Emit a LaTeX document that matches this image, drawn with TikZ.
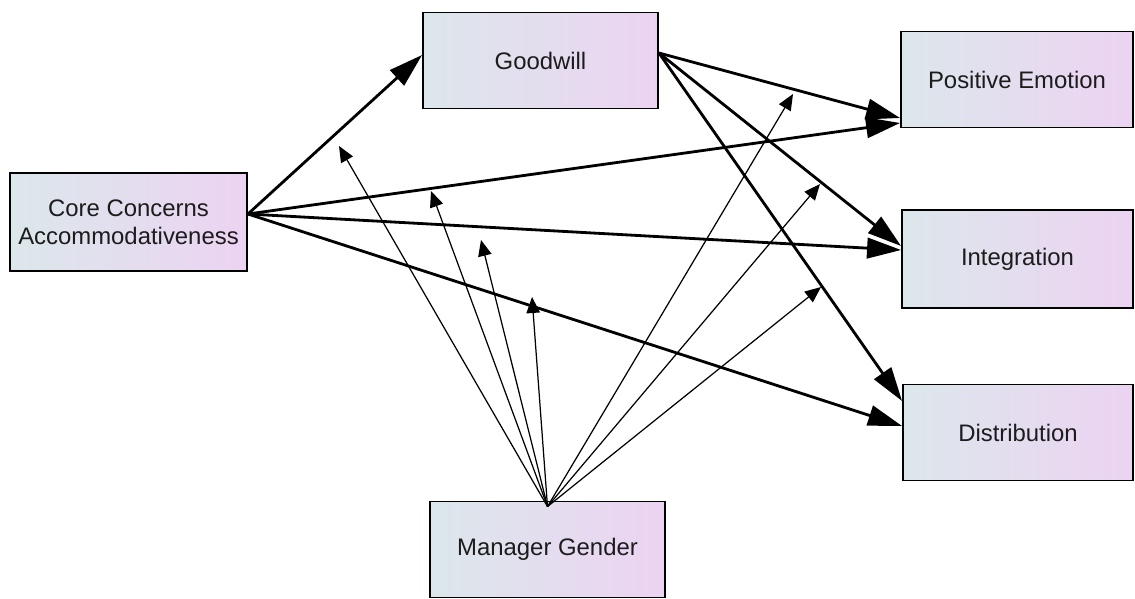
\documentclass[tikz,border=0pt]{standalone}
\usepackage{fontspec}
\setmainfont{Liberation Sans}
\usepackage{tikz}
\usetikzlibrary{arrows.meta}

\definecolor{boxl}{RGB}{220,231,235}
\definecolor{boxr}{RGB}{236,211,242}
\definecolor{txt}{RGB}{28,28,28}

\begin{document}
\begin{tikzpicture}[> = {Triangle[length=0.68cm,width=0.41cm]}, % arrow head style
	x=0.02cm, y=-0.02cm, % one unit per pixel, y downwards
	semithick % line style
	,var/.style={rectangle,draw,line width=1.1pt,left color=boxl,right color=boxr,
		minimum width=4.7cm,minimum height=1.92cm,align=center,text=txt,
		font=\fontsize{13.6}{15.9}\selectfont},
	effect/.style={->,line width=1.6pt},
	moder/.style={-{Triangle[length=0.32cm,width=0.27cm]},line width=0.7pt}]
	\useasboundingbox (0,0) rectangle (1135,598);

	\node[var,minimum width=4.74cm,minimum height=1.96cm] (core) at (128.5,222) {Core Concerns\\Accommodativeness};
	\node[var] (goodwill) at (540.5,60.5) {Goodwill};
	\node[var,minimum width=4.64cm] (posemo) at (1017,79.5) {Positive Emotion};
	\node[var,minimum width=4.62cm,minimum height=1.96cm] (integ) at (1017.5,259) {Integration};
	\node[var,minimum width=4.6cm] (distr) at (1018,432.5) {Distribution};
	\node[var] (gender) at (547.5,549.5) {Manager Gender};

	% direct effects
	\draw[effect] ([yshift=0.16cm]core.east) -- ([yshift=0.11cm]goodwill.west);
	\draw[effect] ([yshift=0.16cm]core.east) -- ([yshift=-0.87cm]posemo.west);
	\draw[effect] ([yshift=0.16cm]core.east) -- ([yshift=0.18cm]integ.west);
	\draw[effect] ([yshift=0.16cm]core.east) -- ([yshift=0.13cm]distr.west);
	\draw[effect] ([yshift=0.15cm]goodwill.east) -- ([yshift=-0.77cm]posemo.west);
	\draw[effect] ([yshift=0.15cm]goodwill.east) -- ([yshift=0.26cm]integ.west);
	\draw[effect] ([yshift=0.15cm]goodwill.east) -- ([yshift=0.63cm]distr.west);

	% moderation by gender
	\coordinate (src) at ([yshift=-0.12cm]gender.north);
	\coordinate (m1) at (339,146);
	\coordinate (m2) at (431,191);
	\coordinate (m3) at (481,240);
	\coordinate (m4) at (532,297);
	\coordinate (m5) at (793,94);
	\coordinate (m6) at (820,184);
	\coordinate (m7) at (821,287);

	\draw[moder] (src)--(m1);
	\draw[moder] (src)--(m2);
	\draw[moder] (src)--(m3);
	\draw[moder] (src)--(m4);
	\draw[moder] (src)--(m5);
	\draw[moder] (src)--(m6);
	\draw[moder] (src)--(m7);

\end{tikzpicture}
\end{document}
